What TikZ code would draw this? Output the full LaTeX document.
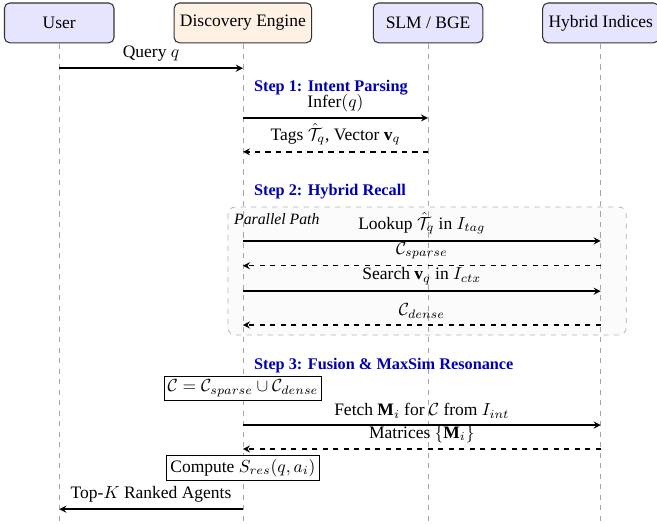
\documentclass[tikz,border=0pt]{standalone}
\usepackage{amsmath}
\usepackage{amssymb}
\usepackage{fontspec}
\setmainfont{Liberation Serif}
\usetikzlibrary{arrows}
\tikzstyle{actor} = [draw=black!80,semithick,rounded corners=3pt,minimum width=2.2cm,minimum height=0.8cm]
\tikzstyle{msg} = [thick,->,>=stealth]
\tikzstyle{ret} = [thick,dashed,->,>=stealth]
\tikzstyle{life} = [dashed,gray!70]
\tikzstyle{steplabel} = [anchor=west,font=\bfseries\fontsize{9.3}{11}\selectfont,text=blue!70!black]
\tikzstyle{note} = [draw,fill=white,inner sep=2pt]

\begin{document}
\begin{tikzpicture}
  \useasboundingbox (0,0) rectangle (13.2,-10.51);
  % parallel block
  \draw[dashed,gray!60,rounded corners=4pt,fill=gray!3] (4.58,-4.16) rectangle (12.58,-6.73);
  \node[anchor=north west,font=\small\itshape] (par) at (4.58,-4.16) {Parallel Path};

  \node[actor,fill=blue!10] (user) at (1.19,-0.46) {User};
  \node[actor,fill=orange!10] (eng) at (4.88,-0.46) {Discovery Engine};
  \node[actor,fill=blue!10] (slm) at (8.6,-0.46) {SLM / BGE};
  \node[actor,fill=blue!10] (hyb) at (12.07,-0.46) {Hybrid Indices};
  \coordinate (bot) at (0,-10.51);
  \foreach \n in {user,eng,slm,hyb}
    \draw[life] (\n.south) -- (\n |- bot);

 \draw [msg] (user |- 0,-1.37) -- node[above] {Query $q$} (eng |- 0,-1.37);

 % step 1
 \node[steplabel] (s1) at (4.98,-1.77) {Step 1: Intent Parsing};
 \draw [msg] (eng |- 0,-2.37) -- node[above] {Infer$(q)$} (slm |- 0,-2.37);
 \draw [ret] (slm |- 0,-3.05) -- node[above] {Tags $\hat{\mathcal{T}}_q$, Vector $\mathbf{v}_q$} (eng |- 0,-3.05);

 % step 2
 \node[steplabel] (s2) at (4.98,-3.84) {Step 2: Hybrid Recall};
 \draw [msg] (eng |- 0,-4.84) -- node[above] {Lookup $\hat{\mathcal{T}}_q$ in $I_{tag}$} (hyb |- 0,-4.84);
 \draw [ret] (hyb |- 0,-5.34) -- node[above] {$\mathcal{C}_{sparse}$} (eng |- 0,-5.34);
 \draw [msg] (eng |- 0,-5.85) -- node[above] {Search $\mathbf{v}_q$ in $I_{ctx}$} (hyb |- 0,-5.85);
 \draw [ret] (hyb |- 0,-6.53) -- node[above] {$\mathcal{C}_{dense}$} (eng |- 0,-6.53);

 % step 3
 \node[steplabel] (s3) at (4.98,-7.35) {Step 3: Fusion \& MaxSim Resonance};
 \node[note] (union) at (eng |- 0,-7.8) {$\mathcal{C} = \mathcal{C}_{sparse} \cup \mathcal{C}_{dense}$};
 \draw [msg] (eng |- 0,-8.54) -- node[above] {Fetch $\mathbf{M}_i$ for $\mathcal{C}$ from $I_{int}$} (hyb |- 0,-8.54);
 \draw [ret] (hyb |- 0,-9.02) -- node[above] {Matrices $\{\mathbf{M}_i\}$} (eng |- 0,-9.02);
 \node[note] (score) at (eng |- 0,-9.4) {Compute $S_{res}(q, a_i)$};
 \draw [msg] (eng |- 0,-10.23) -- node[above] {Top-$K$ Ranked Agents} (user |- 0,-10.23);
\end{tikzpicture}
\end{document}
